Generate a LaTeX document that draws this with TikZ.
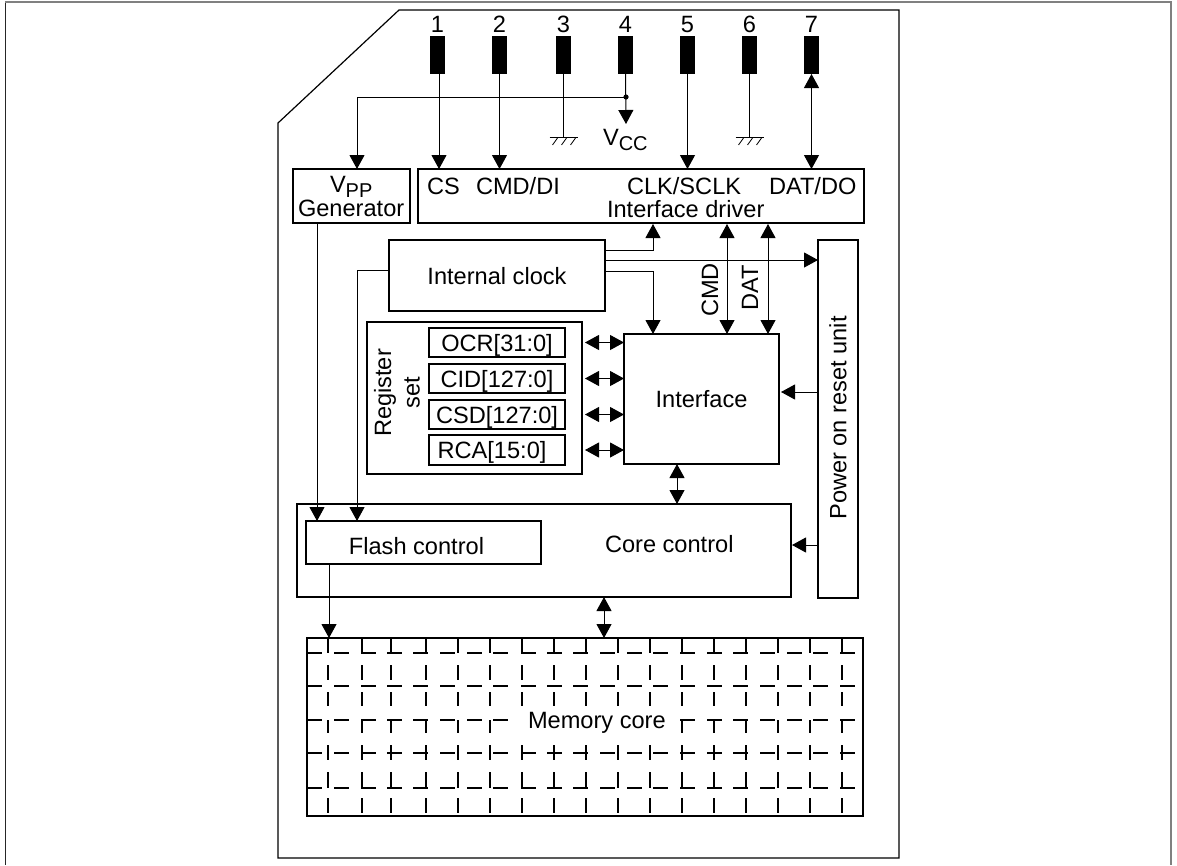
\documentclass[tikz,border=0pt]{standalone}
\usepackage{fontspec}
\setmainfont{Liberation Sans}
\usetikzlibrary{arrows.meta,calc}
\tikzset{
  x=1pt,y=-1pt,
  every path/.style={line width=1.2pt},
  box/.style={draw,outer sep=0pt,inner sep=0pt,text height=17pt,text depth=0pt,anchor=center},
  pin/.style={fill=black,draw=none,minimum width=15pt,minimum height=38pt,inner sep=0pt,outer sep=0pt},
  lab/.style={inner sep=0pt,outer sep=0pt,anchor=base west},
  clab/.style={inner sep=0pt,outer sep=0pt,anchor=center},
  tipb/.style={-{Triangle[width=15pt,length=14pt]}},
  tipd/.style={{Triangle[width=15pt,length=14pt]}-{Triangle[width=15pt,length=14pt]}},
  wire/.style={line width=1pt},
}
\newcommand{\tf}{\fontsize{23.6}{25}\selectfont}
\newcommand{\sbf}{\fontsize{20}{22}\selectfont}
\begin{document}
\begin{tikzpicture}[font=\tf]
\useasboundingbox (0,0) rectangle (1177,865);
\draw[black!85,line width=1.3pt] (5.5,865) -- (5.5,2);
\draw[gray,line width=2pt] (4.8,2) -- (1171,2) -- (1171,865);
% card
\draw (278,123) -- (399,10) -- (899,10) -- (899,858) -- (278,858) -- cycle;
% pins
\foreach \n/\x in {1/437.5,2/499.5,3/563.5,4/625.5,5/687.5,6/749.5,7/811.5}{
  \node[pin] (pin\n) at (\x,55) {};
  \node[clab,font=\tf] (num\n) at (\x,24.5) {\n};
}
% boxes
\node[box,minimum width=117pt,minimum height=54pt] (vpp) at (351.5,196) {};
\node[box,minimum width=446pt,minimum height=54pt] (drv) at (641,196) {};
\node[box,minimum width=216pt,minimum height=71pt] (clk) at (497,275.5) {Internal clock};
\node[box,minimum width=40pt,minimum height=358pt] (por) at (838,419) {};
\node[box,minimum width=155pt,minimum height=130pt] (ifc) at (701.5,399) {Interface};
\node[box,minimum width=215pt,minimum height=152pt] (reg) at (474.5,398) {};
\node[box,minimum width=136pt,minimum height=29pt] (ocr) at (497,342.5) {OCR[31:0]};
\node[box,minimum width=136pt,minimum height=29pt] (cid) at (497,378.5) {CID[127:0]};
\node[box,minimum width=136pt,minimum height=29pt] (csd) at (497,414.5) {CSD[127:0]};
\node[box,minimum width=136pt,minimum height=30pt] (rca) at (497,450) {\hspace*{-10pt}RCA[15:0]};
\node[box,minimum width=494pt,minimum height=93pt] (core) at (544,550.5) {};
\node[box,minimum width=235pt,minimum height=43pt,text height=23pt] (fla) at (423.5,542.5) {\hspace*{-14pt}Flash control};
\node[box,minimum width=556pt,minimum height=178pt] (mem) at (585,727) {};
% texts
\node[lab] (tV) at (330,192) {V\raisebox{-5pt}{\sbf PP}};
\node[lab] (tG) at (298,216) {Generator};
\node[lab] (tCS) at (427,194) {CS};
\node[lab] (tCMD) at (476,194) {CMD/DI};
\node[lab] (tCLK) at (627,194) {CLK/SCLK};
\node[lab] (tDAT) at (769,194) {DAT/DO};
\node[lab] (tDRV) at (607,217) {Interface driver};
\node[lab] (tVCC) at (603,145) {V\raisebox{-5pt}{\sbf CC}};
\node[lab] (tCORE) at (605,552) {Core control};
\node[lab] (tMEM) at (528,728) {Memory core};
\node[clab,rotate=90] (tC) at (710,290) {CMD};
\node[clab,rotate=90] (tD) at (750,288) {DAT};
\node[clab,rotate=90] (tR) at (385,393) {Register};
\node[clab,rotate=90] (tS) at (412,393) {set};
\node[clab,rotate=90] (tP) at (838,418) {Power on reset unit};
% wires
\coordinate (bus) at (626,97);
\coordinate (vccend) at (626,124);
\coordinate (busL) at (357,97);
\draw[wire,tipb] (pin1.south -| 439,0) -- (drv.north -| 439,0);
\draw[wire,tipb] (pin2.south) -- (drv.north -| pin2);
\draw[wire] (pin3.south) -- (pin3 |- 0,137) coordinate (g3);
\draw[wire] (pin6.south) -- (pin6 |- 0,137) coordinate (g6);
\foreach \g in {g3,g6}{
  \draw[line width=.9pt] ($(\g)+(-14,0)$) -- ($(\g)+(14,0)$);
  \foreach \d in {-11,-2,7}{\draw[line width=.8pt] ($(\g)+(\d,8)$) -- ($(\g)+(\d+5,1)$);}
}
\draw[wire,tipb] (pin4.south) -- (vccend);
\draw[wire,tipb] (bus) -- (busL) -- (vpp.north -| busL);
\fill (bus) circle (2.6pt);
\draw[wire,tipb] (pin5.south) -- (drv.north -| pin5);
\draw[wire,tipd] (pin7.south) -- (drv.north -| pin7);
\draw[wire,tipb] (vpp.south -| 317,0) -- (fla.north -| 317,0);
\draw[wire,tipb] (clk.west |- 0,270) -- (357,270) -- (fla.north -| 357,0);
\draw[wire,tipb] (clk.east |- 0,250) -- (653,250) -- (653,224);
\draw[wire,tipb] (clk.east |- 0,260) -- (por.west |- 0,260);
\draw[wire,tipb] (clk.east |- 0,271) -- (653,271) -- (ifc.north -| 653,0);
\draw[wire,tipd] (727,224) -- (ifc.north -| 727,0);
\draw[wire,tipd] (768,224) -- (ifc.north -| 768,0);
\foreach \b in {ocr,cid,csd,rca}{\draw[wire,tipd] (585,0 |- \b) -- (ifc.west |- \b);}
\draw[wire,tipb] (por.west |- 0,392) -- (781,392);
\draw[wire,tipb] (por.west |- 0,545) -- (792,545);
\draw[wire,tipd] (ifc.south -| 677,0) -- (core.north -| 677,0);
\draw[wire,tipb] (fla.south -| 329,0) -- (mem.north -| 329,0);
\draw[wire,tipd] (core.south -| 604,0) -- (mem.north -| 604,0);
% memory grid
\begin{scope}[line width=1pt]
\foreach \y/\ya/\yb in {0/638/653,1/665/680,2/692/706,3/720/733,4/745/760,5/772/788,6/798/813}{
  \foreach \x in {328,362,391,426,458,490,522,554,586,618,650,682,714,746,778,810,842}{
    \pgfmathtruncatemacro{\skip}{(\y==3 && \x>500 && \x<670) ? 1 : 0}
    \ifnum\skip=0 \draw (\x,\ya) -- (\x,\yb);\fi
  }
}
\foreach \r/\y in {0/653,1/686,2/720,3/753,4/788}{
  \foreach \x in {307,334,361,387,413,440,467,493,521,547,573,600,627,653,680,707,733,760,787,813,840}{
    \pgfmathtruncatemacro{\skip}{(\r==2 && \x>510 && \x<670) ? 1 : 0}
    \ifnum\skip=0 \draw (\x,\y) -- (\x+15,\y);\fi
  }
}
\end{scope}
\end{tikzpicture}
\end{document}
